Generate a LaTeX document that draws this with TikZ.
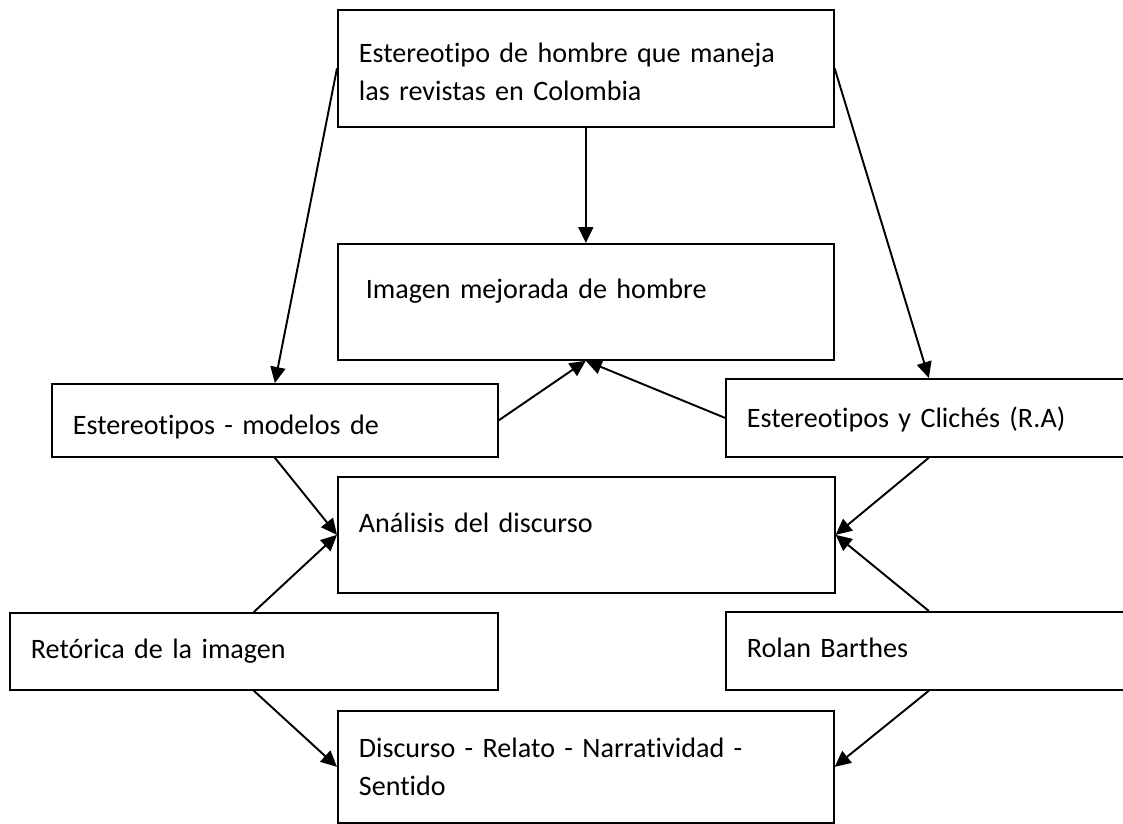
\documentclass[tikz,border=0pt]{standalone}
\usepackage{fontspec}
\setmainfont{Carlito}[Ligatures=NoCommon]
\usetikzlibrary{arrows.meta}
\tikzset{block/.style={draw=black,line width=1pt,anchor=north west,align=left,
inner xsep=0.42cm,inner ysep=0pt,font=\fontsize{16}{21.6}\selectfont},
flow/.style={-{Triangle[length=3.2mm,width=3mm]},line width=1.1pt,draw=black}}

\begin{document}
\begin{tikzpicture}[x=0.02cm,y=-0.02cm]
\useasboundingbox (0,0) rectangle (1123,824);
\clip (0,0) rectangle (1123,824);
\node[block,text width=9.08cm,text height=1.06cm,text depth=1.28cm](tope) at (337,9){Estereotipo de hombre que maneja\\las revistas en Colombia};
\node[block,text width=9.08cm,text height=1.10cm,text depth=1.22cm](imagen) at (337,243){\hspace*{0.14cm}Imagen mejorada de hombre};
\node[block,text width=8.08cm,text height=1.02cm,text depth=0.44cm](modelos) at (51,383){Estereotipos - modelos de};
\node[block,text width=7.28cm,text height=0.98cm,text depth=0.58cm](cliches) at (725,378){Estereotipos y Clichés (R.A)};
\node[block,text width=9.10cm,text height=1.12cm,text depth=1.20cm](analisis) at (337,476){Análisis del discurso};
\node[block,text width=8.92cm,text height=0.92cm,text depth=0.62cm](retorica) at (9,612){Retórica de la imagen};
\node[block,text width=7.28cm,text height=0.92cm,text depth=0.64cm](rolan) at (725,611){Rolan Barthes};
\node[block,text width=9.08cm,text height=0.94cm,text depth=1.30cm](discurso) at (337,710){Discurso - Relato - Narratividad -\\Sentido};
\draw[flow](tope.west)--(modelos.north);
\draw[flow](tope.south)--(imagen.north);
\draw[flow](tope.east)--(cliches.north);
\draw[flow](modelos.east)--(imagen.south);\draw[flow](cliches.west)--(imagen.south);
\draw[flow](modelos.south)--(analisis.west);\draw[flow](retorica.north)--(analisis.west);
\draw[flow](cliches.south)--(analisis.east);\draw[flow](rolan.north)--(analisis.east);
\draw[flow](retorica.south)--(discurso.west);\draw[flow](rolan.south)--(discurso.east);
\end{tikzpicture}
\end{document}
